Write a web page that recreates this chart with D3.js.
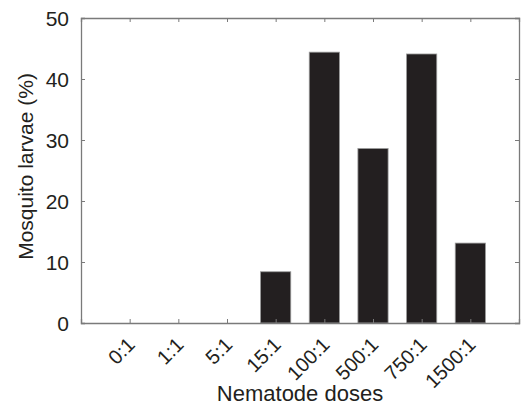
<!DOCTYPE html>
<html>
<head>
<meta charset="utf-8">
<script src="https://cdn.jsdelivr.net/npm/d3@7"></script>
<style>
body { margin: 0; background: #fff; }
text { font-family: "Liberation Sans", Arial, sans-serif; fill: #231f20; }
</style>
</head>
<body>
<svg id="svg" width="525" height="406"></svg>
<script>
var doses = ["0:1", "1:1", "5:1", "15:1", "100:1", "500:1", "750:1", "1500:1"];
var larvae = [0, 0, 0, 8.4, 44.4, 28.6, 44.1, 13.1];
var yticks = [0, 10, 20, 30, 40, 50];

// plot frame (note: "top" is taken by window.top, so use px names)
var px0 = 81, px1 = 519, py0 = 18, py1 = 323;
var svg = d3.select("#svg");

// one empty slot each side of the categories, like the original
var x = d3.scaleLinear().domain([0, doses.length + 1]).range([px0, px1]);
var y = d3.scaleLinear().domain([0, 50]).range([py1, py0]);
var step = x(1) - x(0);
var bw = step * 0.62;

svg.selectAll("rect.bar")
    .data(larvae)
    .enter().append("rect")
    .attr("class", "bar")
    .attr("x", function(d, i) { return x(i + 1) - bw / 2; })
    .attr("y", function(d) { return y(d); })
    .attr("width", bw)
    .attr("height", function(d) { return py1 - y(d); })
    .attr("fill", "#231f20")
    .attr("stroke", "#999")
    .attr("stroke-width", 0.8)
    .style("display", function(d) { return d > 0 ? null : "none"; });

var tickcol = "#7a7a7a";

// left axis
var ya = svg.append("g").attr("transform", "translate(" + px0 + ",0)")
    .call(d3.axisLeft(y).tickValues(yticks).tickSize(-4).tickPadding(12));
// right axis (ticks only)
var yr = svg.append("g").attr("transform", "translate(" + px1 + ",0)")
    .call(d3.axisRight(y).tickValues(yticks).tickSize(-4).tickFormat(""));
// bottom axis
var xa = svg.append("g").attr("transform", "translate(0," + py1 + ")")
    .call(d3.axisBottom(x).tickValues(d3.range(1, doses.length + 1)).tickSize(-4)
        .tickFormat(function(d) { return doses[d - 1]; }));
// top axis (ticks only)
var xt = svg.append("g").attr("transform", "translate(0," + py0 + ")")
    .call(d3.axisTop(x).tickValues(d3.range(1, doses.length + 1)).tickSize(-4).tickFormat(""));

[ya, yr, xa, xt].forEach(function(g) {
    g.select(".domain").attr("stroke", tickcol).attr("stroke-width", 1.3);
    g.selectAll(".tick line").attr("stroke", tickcol);
    g.selectAll("text").attr("fill", "#231f20");
});

ya.selectAll("text").style("font-size", "21px").attr("dy", "0.36em");

xa.selectAll("text")
    .style("font-size", "20px")
    .attr("text-anchor", "end")
    .attr("dy", null)
    .attr("y", 0)
    .attr("transform", "translate(6,23) rotate(-45)");

svg.append("text")
    .attr("transform", "translate(33," + ((py0 + py1) / 2 - 4) + ") rotate(-90)")
    .attr("text-anchor", "middle")
    .style("font-size", "21px")
    .text("Mosquito larvae (%)");

svg.append("text")
    .attr("x", 300)
    .attr("y", 401)
    .attr("text-anchor", "middle")
    .style("font-size", "22px")
    .text("Nematode doses");
</script>
</body>
</html>
